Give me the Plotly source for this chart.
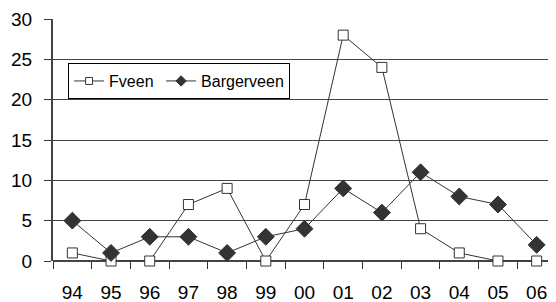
import plotly.graph_objects as go

years = ["94", "95", "96", "97", "98", "99", "00", "01", "02", "03", "04", "05", "06"]
fveen = [1, 0, 0, 7, 9, 0, 7, 28, 24, 4, 1, 0, 0]
bargerveen = [5, 1, 3, 3, 1, 3, 4, 9, 6, 11, 8, 7, 2]
y_ticks = [0, 5, 10, 15, 20, 25, 30]

FONT = "Liberation Sans, Arial, sans-serif"
LINE = "#333333"

fig = go.Figure()
# data traces (legend drawn with smaller symbols below)
fig.add_trace(go.Scatter(
    x=years, y=fveen, name="Fveen", mode="lines+markers", showlegend=False,
    line=dict(color=LINE, width=1),
    marker=dict(symbol="square", size=10, color="white", line=dict(color=LINE, width=1)),
    cliponaxis=False,
))
fig.add_trace(go.Scatter(
    x=years, y=bargerveen, name="Bargerveen", mode="lines+markers", showlegend=False,
    line=dict(color=LINE, width=1),
    marker=dict(symbol="diamond", size=13, color=LINE, line=dict(color=LINE, width=1)),
    cliponaxis=False,
))
# legend entries
fig.add_trace(go.Scatter(
    x=[None], y=[None], name="Fveen", mode="lines+markers",
    line=dict(color=LINE, width=1),
    marker=dict(symbol="square", size=7, color="white", line=dict(color=LINE, width=1)),
    legendwidth=47,
))
fig.add_trace(go.Scatter(
    x=[None], y=[None], name="Bargerveen", mode="lines+markers",
    line=dict(color=LINE, width=1),
    marker=dict(symbol="diamond", size=8, color=LINE, line=dict(color=LINE, width=1)),
))

# page body has an 8px margin: figure is sized so that it ends at the window edge
fig.update_layout(
    width=548, height=294,
    margin=dict(l=45, r=0, t=11, b=41),
    paper_bgcolor="white", plot_bgcolor="white",
    font=dict(family=FONT, size=19, color="black"),
    showlegend=True,
    legend=dict(
        orientation="h", x=0.03, y=0.818, xanchor="left", yanchor="top",
        bgcolor="white", bordercolor="black", borderwidth=1,
        font=dict(size=16, family=FONT),
        itemwidth=30, tracegroupgap=0,
    ),
    xaxis=dict(
        type="category", range=[-0.5, 12.5],
        showgrid=False, showline=False, zeroline=False,
        ticks="outside", tickson="boundaries", ticklen=7,
        tickcolor=LINE, tickwidth=1,
        ticklabelstandoff=18,
        tickfont=dict(size=19, family=FONT),
    ),
    yaxis=dict(
        range=[0, 30], tickvals=y_ticks,
        showgrid=True, gridcolor="#444444", gridwidth=1,
        showline=True, linecolor="#444444", linewidth=2,
        zeroline=True, zerolinecolor="#444444", zerolinewidth=1.5,
        ticks="outside", ticklen=7, tickcolor=LINE, tickwidth=1,
        ticklabelstandoff=8,
        tickfont=dict(size=19, family=FONT),
    ),
)

fig.write_html("out.html")
